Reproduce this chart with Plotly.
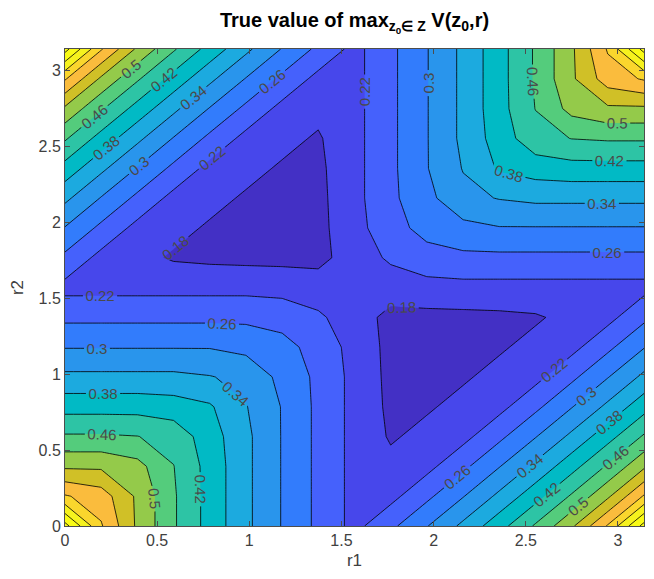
import plotly.graph_objects as go

# grid coordinates (radians)
r1 = [0.0, 0.196, 0.393, 0.589, 0.785, 0.982, 1.178, 1.374, 1.571,
      1.767, 1.963, 2.160, 2.356, 2.553, 2.749, 2.945, 3.1416]
r2 = [0.0, 0.196, 0.393, 0.589, 0.785, 0.982, 1.178, 1.374, 1.571,
      1.767, 1.963, 2.160, 2.356, 2.553, 2.749, 2.945, 3.1416]

# values, rows = r2, columns = r1
z_rows = [
    [0.755,0.624,0.533,0.465,0.405,0.349,0.298,0.251,0.208,0.251,0.298,0.349,0.405,0.465,0.533,0.624,0.755],
    [0.624,0.600,0.533,0.465,0.405,0.349,0.298,0.251,0.208,0.208,0.251,0.298,0.349,0.405,0.465,0.533,0.624],
    [0.533,0.533,0.513,0.461,0.405,0.349,0.298,0.251,0.208,0.190,0.208,0.251,0.298,0.349,0.405,0.465,0.533],
    [0.465,0.465,0.461,0.445,0.399,0.349,0.298,0.251,0.208,0.176,0.190,0.208,0.251,0.298,0.349,0.405,0.465],
    [0.405,0.405,0.405,0.399,0.385,0.342,0.298,0.251,0.208,0.172,0.176,0.190,0.208,0.251,0.298,0.349,0.405],
    [0.349,0.349,0.349,0.349,0.342,0.329,0.289,0.251,0.208,0.170,0.172,0.176,0.190,0.208,0.251,0.298,0.349],
    [0.298,0.298,0.298,0.298,0.298,0.289,0.277,0.241,0.208,0.168,0.170,0.172,0.176,0.190,0.208,0.251,0.298],
    [0.251,0.251,0.251,0.251,0.251,0.251,0.241,0.226,0.200,0.168,0.168,0.170,0.172,0.176,0.190,0.208,0.251],
    [0.208,0.208,0.208,0.208,0.208,0.208,0.208,0.200,0.195,0.200,0.208,0.208,0.208,0.208,0.208,0.208,0.208],
    [0.251,0.208,0.190,0.176,0.172,0.170,0.168,0.168,0.200,0.226,0.241,0.251,0.251,0.251,0.251,0.251,0.251],
    [0.298,0.251,0.208,0.190,0.176,0.172,0.170,0.168,0.208,0.241,0.277,0.289,0.298,0.298,0.298,0.298,0.298],
    [0.349,0.298,0.251,0.208,0.190,0.176,0.172,0.170,0.208,0.251,0.289,0.329,0.342,0.349,0.349,0.349,0.349],
    [0.405,0.349,0.298,0.251,0.208,0.190,0.176,0.172,0.208,0.251,0.298,0.342,0.385,0.399,0.405,0.405,0.405],
    [0.465,0.405,0.349,0.298,0.251,0.208,0.190,0.176,0.208,0.251,0.298,0.349,0.399,0.445,0.461,0.465,0.465],
    [0.533,0.465,0.405,0.349,0.298,0.251,0.208,0.190,0.208,0.251,0.298,0.349,0.405,0.461,0.513,0.533,0.533],
    [0.624,0.533,0.465,0.405,0.349,0.298,0.251,0.208,0.208,0.251,0.298,0.349,0.405,0.465,0.533,0.600,0.624],
    [0.755,0.624,0.533,0.465,0.405,0.349,0.298,0.251,0.208,0.251,0.298,0.349,0.405,0.465,0.533,0.624,0.755],
]

level_start = 0.18
level_end = 0.74
level_step = 0.04

tick_vals = [0, 0.5, 1, 1.5, 2, 2.5, 3]
tick_text = ["0", "0.5", "1", "1.5", "2", "2.5", "3"]

# ---- style: MATLAB parula colormap ----
PARULA = [
 (0.2422,0.1504,0.6603),(0.2504,0.1650,0.7076),(0.2578,0.1818,0.7511),(0.2647,0.1978,0.7952),
 (0.2706,0.2147,0.8364),(0.2751,0.2342,0.8710),(0.2783,0.2559,0.8991),(0.2803,0.2782,0.9221),
 (0.2813,0.3006,0.9414),(0.2810,0.3228,0.9579),(0.2795,0.3447,0.9717),(0.2760,0.3667,0.9829),
 (0.2699,0.3892,0.9906),(0.2602,0.4123,0.9952),(0.2440,0.4358,0.9988),(0.2206,0.4603,0.9973),
 (0.1963,0.4847,0.9892),(0.1834,0.5074,0.9798),(0.1786,0.5289,0.9682),(0.1764,0.5499,0.9520),
 (0.1687,0.5703,0.9359),(0.1540,0.5902,0.9218),(0.1460,0.6091,0.9079),(0.1380,0.6276,0.8973),
 (0.1248,0.6459,0.8883),(0.1113,0.6635,0.8763),(0.0952,0.6798,0.8598),(0.0689,0.6948,0.8394),
 (0.0297,0.7082,0.8163),(0.0036,0.7203,0.7917),(0.0067,0.7312,0.7660),(0.0433,0.7411,0.7394),
 (0.0964,0.7500,0.7120),(0.1408,0.7584,0.6842),(0.1717,0.7670,0.6554),(0.1938,0.7758,0.6251),
 (0.2161,0.7843,0.5923),(0.2470,0.7918,0.5567),(0.2906,0.7973,0.5188),(0.3406,0.8008,0.4789),
 (0.3909,0.8029,0.4354),(0.4456,0.8024,0.3909),(0.5044,0.7993,0.3480),(0.5616,0.7942,0.3045),
 (0.6174,0.7876,0.2612),(0.6720,0.7793,0.2227),(0.7242,0.7698,0.1910),(0.7738,0.7598,0.1646),
 (0.8203,0.7498,0.1535),(0.8634,0.7406,0.1596),(0.9035,0.7330,0.1774),(0.9393,0.7288,0.2100),
 (0.9728,0.7298,0.2394),(0.9956,0.7434,0.2371),(0.9970,0.7659,0.2199),(0.9952,0.7893,0.2028),
 (0.9892,0.8136,0.1885),(0.9786,0.8386,0.1766),(0.9676,0.8639,0.1643),(0.9610,0.8890,0.1537),
 (0.9597,0.9135,0.1423),(0.9628,0.9373,0.1265),(0.9691,0.9606,0.1064),(0.9769,0.9839,0.0805),
]

def parula_at(p):
    p = min(1.0, max(0.0, p)) * (len(PARULA) - 1)
    i = int(p)
    j = min(i + 1, len(PARULA) - 1)
    t = p - i
    c = [PARULA[i][k] * (1 - t) + PARULA[j][k] * t for k in range(3)]
    return "rgb(%d,%d,%d)" % tuple(round(v * 255) for v in c)

n_levels = round((level_end - level_start) / level_step) + 1
n_bands = n_levels + 1
band_colorscale = [[k / (n_bands - 1), parula_at(0.04 + 0.072 * k)] for k in range(n_bands)]

FONT = "Liberation Sans"

fig = go.Figure()
fig.add_trace(go.Contour(
    x=r1, y=r2, z=z_rows,
    colorscale=band_colorscale,
    showscale=False,
    contours=dict(start=level_start, end=level_end, size=level_step,
                  coloring="fill", showlabels=True,
                  labelfont=dict(size=15, color="#4a4a4a", family=FONT),
                  labelformat=".2~f"),
    line=dict(color="black", width=0.8, smoothing=0),
    hoverinfo="skip",
))

axis_common = dict(
    range=[0, 3.1416], tickvals=tick_vals, ticktext=tick_text,
    ticks="inside", ticklen=5, tickcolor="#4d4d4d", mirror="ticks",
    showline=True, linecolor="#4d4d4d", linewidth=1, showgrid=False, zeroline=False,
    automargin=False,
    tickfont=dict(size=16, color="#404040", family=FONT),
)

# the page body has an 8px margin, so the figure is sized/placed to compensate
fig.update_layout(
    width=646, height=571,
    margin=dict(l=57, r=10, t=41, b=53),
    paper_bgcolor="white", plot_bgcolor="white",
    title=dict(text="<b>True value of max<sub>z<sub>0</sub>∈ Z</sub> V(z<sub>0</sub>,r)</b>",
               x=0.5, xanchor="center", xref="paper",
               y=1 - 5 / 571, yanchor="top", yref="container",
               font=dict(size=20, color="black", family=FONT)),
    xaxis=dict(title=dict(text="r1", standoff=5,
                          font=dict(size=17, color="#404040", family=FONT)),
               **axis_common),
    yaxis=dict(title=dict(text="r2", standoff=12,
                          font=dict(size=17, color="#404040", family=FONT)),
               **axis_common),
)

fig.write_html("out.html")
